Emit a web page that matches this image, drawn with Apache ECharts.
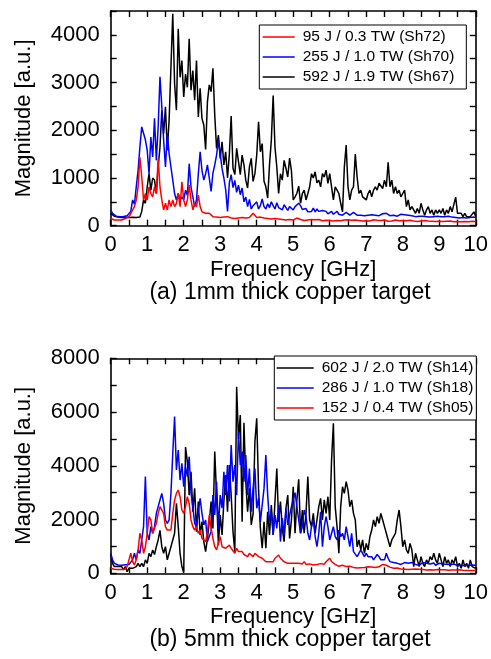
<!DOCTYPE html>
<html>
<head>
<meta charset="utf-8">
<script src="https://cdn.jsdelivr.net/npm/echarts@6/dist/echarts.min.js"></script>
<style>
  html, body { margin: 0; padding: 0; background: #fff; }
  #chart { width: 491px; height: 659px; }
</style>
</head>
<body>
<div id="chart"></div>
<script>
// Spectra are sampled every 0.05 GHz from 0 to 10 GHz (201 points per trace).
const FREQ_STEP_GHZ = 0.05;

const xTickLabels = [0, 1, 2, 3, 4, 5, 6, 7, 8, 9, 10];
const yTickLabelsThin = [0, 1000, 2000, 3000, 4000];
const yTickLabelsThick = [0, 2000, 4000, 6000, 8000];

// (a) 1 mm thick copper target — one row per GHz
const thinNames = ['95 J / 0.3 TW (Sh72)', '255 J / 1.0 TW (Sh70)', '592 J / 1.9 TW (Sh67)'];

const thinSh72 = [
  150,130,120,115,120,110,120,130,150,170,190,250,330,400,540,815,1440,1020,540,675,
  540,815,675,605,815,675,1410,815,540,330,470,330,540,400,540,400,470,675,400,920,
  540,400,540,850,540,330,470,400,640,400,290,330,260,290,260,220,190,220,180,200,
  170,210,180,150,190,170,160,190,150,170,160,140,170,150,160,140,170,200,260,230,
  170,150,180,140,160,130,150,170,140,130,150,120,140,160,130,150,120,140,130,150,
  120,140,160,190,130,140,110,130,120,110,130,115,125,110,130,120,105,125,115,130,
  110,120,100,125,110,130,105,115,120,100,125,110,115,100,120,105,110,125,100,115,
  105,120,100,110,125,100,115,105,110,100,120,105,95,115,100,110,120,95,105,100,
  110,95,105,100,115,95,100,110,90,105,100,95,110,90,100,105,95,100,90,105,
  95,100,90,105,95,90,100,95,85,100,90,95,85,100,90,95,85,90,95,85,
  90
];

const thinSh70 = [
  330,260,220,200,200,190,200,195,200,210,250,300,540,450,815,1160,1650,2070,2110,1800,
  1580,1090,1860,1440,2250,1370,2070,3120,2490,1790,1230,1930,1510,1230,955,675,540,675,540,605,
  540,745,640,1300,815,605,400,540,1090,1550,1160,955,1090,1275,1000,720,1100,1275,1480,1800,
  1500,1200,1000,750,300,900,1070,800,950,700,850,650,790,500,600,400,550,350,420,380,
  500,350,420,560,400,350,460,380,500,420,350,480,380,420,330,440,380,320,400,360,
  330,400,360,470,420,340,300,360,290,330,300,370,290,350,300,270,320,280,300,250,
  280,300,240,270,300,240,260,220,250,280,240,220,260,280,240,220,250,220,240,210,
  240,220,250,230,260,220,240,210,230,250,220,260,230,210,240,220,230,200,220,240,
  210,230,200,220,190,210,220,190,210,200,180,200,220,190,200,180,210,190,180,200,
  180,190,170,190,180,200,170,180,190,170,180,160,180,170,190,160,180,170,160,180,
  170
];

const thinSh67 = [
  260,230,200,190,180,185,170,180,175,190,170,180,175,190,170,200,180,300,540,470,
  815,1090,745,1000,955,675,1230,1650,2420,1930,2490,1580,2210,3320,4440,2980,2420,4130,3110,3460,
  2700,3180,2900,3920,2840,3250,2630,3460,2280,2880,2250,2110,1600,2600,2950,2810,3300,2320,1620,1900,
  1410,1760,1275,1550,1000,1500,2300,1205,1070,1620,1345,1070,1480,1275,955,790,1230,1410,930,1090,
  1480,2180,1550,1720,930,815,580,1275,1790,2730,1650,1230,675,1090,955,1370,1205,1020,1415,1160,
  540,605,680,830,470,675,745,540,675,815,1090,1000,1130,900,955,815,1090,1020,1165,885,
  1090,815,540,815,745,675,470,290,1230,1690,815,540,745,815,1500,1020,675,745,605,605,
  540,675,745,605,745,815,745,890,885,780,955,815,1330,815,955,675,815,675,745,605,
  675,745,400,540,330,400,330,260,360,260,470,330,220,330,400,260,330,220,330,260,
  330,260,360,220,330,260,400,290,260,600,260,220,260,190,260,190,220,190,220,290,
  190
];

// (b) 5 mm thick copper target — one row per GHz
const thickNames = ['602 J / 2.0 TW (Sh14)', '286 J / 1.0 TW (Sh18)', '152 J / 0.4 TW (Sh05)'];

const thickSh14 = [
  745,370,250,280,250,300,250,125,250,60,185,250,185,250,250,370,250,370,250,500,
  370,745,620,870,700,990,1240,1600,990,745,990,500,745,990,1240,1490,2600,1735,745,250,
  40,4700,4150,2910,3780,2290,3160,1550,2670,1430,1920,1180,805,1300,1920,2670,1670,4530,2910,1050,
  2170,1430,2670,3660,2290,4030,2910,1550,805,6940,5000,5890,1920,5600,3410,2290,3160,1800,2200,4900,
  5770,3160,1670,930,1920,930,2290,1430,2540,1430,2670,3900,1920,2670,1670,1180,2420,2910,1300,1985,
  3220,1490,2730,3500,1490,2355,1490,2230,3600,1985,1735,2230,1490,1985,2480,2790,1985,2730,2230,2850,
  1985,4215,5580,2480,1735,745,2480,3220,2975,3410,3100,2480,2730,2230,1985,990,1240,870,1240,745,
  1115,870,1365,1610,1985,1735,2110,1860,2230,1985,1735,1490,1240,990,1240,1365,1490,1985,2355,1735,
  990,1240,870,745,1115,870,250,745,500,250,620,370,250,500,370,620,500,745,500,370,
  745,500,250,620,370,500,250,500,370,620,250,370,185,500,250,370,185,500,250,310,
  185
];

const thickSh18 = [
  745,500,370,330,310,320,300,310,320,300,330,370,500,745,500,870,745,1240,1735,3600,
  1490,1240,1735,1490,1735,2230,2480,2730,2975,2600,1985,1860,1985,2975,4460,5830,3845,4590,3470,4090,
  3220,3970,3600,4340,2975,2480,1860,1735,2290,2790,2230,1800,1985,1180,1365,1550,2910,2170,3410,1670,
  2910,2420,3780,2910,4030,2670,4770,3410,4030,2910,5270,4030,4530,3410,4400,2910,3900,2290,3160,3900,
  2420,2790,1920,2540,3160,4400,2910,1920,2290,1430,2170,1670,2540,1180,2050,1430,2420,1800,1735,2480,
  2480,3000,2480,1985,1490,1735,2355,2110,1490,1240,1735,1985,1365,990,1490,2290,990,1735,2110,1735,
  1240,1490,1735,1365,1240,1610,1365,1490,1240,1735,1700,990,1490,805,745,620,745,870,745,620,
  745,620,560,620,500,560,700,620,500,560,500,745,560,435,500,400,430,370,400,330,
  370,400,330,370,300,400,350,330,370,300,350,400,330,370,300,350,330,380,300,340,
  370,310,350,300,340,380,320,300,350,310,280,330,300,340,280,310,300,270,310,280,
  300
];

const thickSh05 = [
  185,160,150,150,140,150,145,150,160,250,500,745,435,310,500,870,1490,1240,745,990,
  1490,2110,1985,1490,1425,1860,2230,2480,2540,2230,1735,1610,1675,1610,2230,2730,2975,3100,2850,2355,
  2230,2480,2850,2600,1985,1735,1610,1735,1490,1610,1300,1365,1180,1550,2170,1700,1300,990,870,930,
  1365,990,1050,930,870,1050,930,870,745,930,810,745,810,700,680,620,745,680,620,745,
  680,620,680,560,500,430,500,430,500,430,560,620,680,560,500,430,500,370,430,370,
  310,370,310,370,300,350,435,330,300,350,370,310,290,330,400,360,300,340,430,500,
  560,440,380,330,300,260,250,300,280,250,230,260,240,220,250,200,185,210,190,220,
  200,240,210,230,250,220,260,240,280,330,370,300,250,230,200,190,180,200,170,160,
  180,150,170,140,160,150,130,160,140,150,130,140,150,120,140,130,150,120,130,140,
  120,130,110,130,120,110,130,120,100,120,110,130,100,110,120,100,110,100,120,100,
  110
];

const FONT = '"Liberation Sans", Arial, sans-serif';
const AXIS_FONT_SIZE = 22;
const INK = '#000';
const RED = '#ff0000', BLUE = '#0000ff', BLACK = '#000000';

function toPairs(values) {
  return values.map((v, i) => [Number((i * FREQ_STEP_GHZ).toFixed(2)), v]);
}

function xAxisFor(grid, position) {
  const isBottom = position === 'bottom';
  return {
    gridIndex: grid, type: 'value', position: position,
    min: 0, max: 10, interval: 0.5,
    axisLine: { show: true, onZero: false, lineStyle: { color: INK, width: 1.6 } },
    axisTick: { show: true, inside: true, length: 6, lineStyle: { color: INK, width: 1.4 } },
    axisLabel: isBottom ? {
      show: true, margin: 8.5, color: INK, fontSize: AXIS_FONT_SIZE, fontFamily: FONT,
      formatter: v => (xTickLabels.includes(v) ? String(v) : '')
    } : { show: false },
    splitLine: { show: false },
    name: isBottom ? 'Frequency [GHz]' : '',
    nameLocation: 'middle', nameGap: 33,
    nameTextStyle: { color: INK, fontSize: AXIS_FONT_SIZE, fontFamily: FONT }
  };
}

function yAxisFor(grid, position, max, step, labels) {
  const isLeft = position === 'left';
  return {
    gridIndex: grid, type: 'value', position: position,
    min: 0, max: max, interval: step,
    axisLine: { show: true, onZero: false, lineStyle: { color: INK, width: 1.6 } },
    axisTick: { show: true, inside: true, length: 6, lineStyle: { color: INK, width: 1.4 } },
    axisLabel: isLeft ? {
      show: true, margin: 11, color: INK, fontSize: AXIS_FONT_SIZE, fontFamily: FONT,
      formatter: v => (labels.includes(v) ? String(v) : '')
    } : { show: false },
    splitLine: { show: false },
    name: isLeft ? 'Magnitude [a.u.]' : '',
    nameLocation: 'middle', nameRotate: 90, nameGap: 75.5,
    nameTextStyle: { color: INK, fontSize: AXIS_FONT_SIZE, fontFamily: FONT }
  };
}

function lineSeries(name, values, color, axisIdx, z) {
  return {
    type: 'line', name: name, data: toPairs(values),
    xAxisIndex: axisIdx, yAxisIndex: axisIdx,
    symbol: 'none', showSymbol: false, smooth: false,
    lineStyle: { color: color, width: 1.5 },
    itemStyle: { color: color },
    z: z
  };
}

// Legend keys are plain coloured strokes: a flat rectangle the width of the key.
function legendFor(names, left, top, lineLen, padding) {
  return {
    data: names, orient: 'vertical', left: left, top: top,
    icon: 'rect', itemWidth: lineLen, itemHeight: 1.6,
    padding: padding, itemGap: 4,
    backgroundColor: '#fff', borderColor: INK, borderWidth: 1, borderRadius: 0,
    selectedMode: false,
    textStyle: { color: INK, fontSize: 15.5, lineHeight: 16, fontFamily: FONT, padding: [0, 0, 0, 3] }
  };
}

const chart = echarts.init(document.getElementById('chart'), null, { renderer: 'canvas' });

chart.setOption({
  animation: false,
  backgroundColor: '#fff',
  grid: [
    { left: 110.7, right: 13, top: 11, height: 214.7 },
    { left: 110.7, right: 13, top: 358.3, height: 215 }
  ],
  xAxis: [
    xAxisFor(0, 'bottom'), xAxisFor(1, 'bottom'),
    xAxisFor(0, 'top'), xAxisFor(1, 'top')
  ],
  yAxis: [
    yAxisFor(0, 'left', 4500, 500, yTickLabelsThin),
    yAxisFor(1, 'left', 8000, 1000, yTickLabelsThick),
    yAxisFor(0, 'right', 4500, 500, yTickLabelsThin),
    yAxisFor(1, 'right', 8000, 1000, yTickLabelsThick)
  ],
  legend: [
    legendFor(thinNames, 259.3, 25, 32, [4, 12, 4, 3.4]),
    legendFor(thickNames, 274.3, 356, 37, [4, 3, 4, 2.4])
  ],
  series: [
    lineSeries(thinNames[2], thinSh67, BLACK, 0, 2),
    lineSeries(thinNames[1], thinSh70, BLUE, 0, 3),
    lineSeries(thinNames[0], thinSh72, RED, 0, 4),
    lineSeries(thickNames[0], thickSh14, BLACK, 1, 2),
    lineSeries(thickNames[1], thickSh18, BLUE, 1, 3),
    lineSeries(thickNames[2], thickSh05, RED, 1, 4)
  ],
  graphic: [
    {
      type: 'text', x: 290, y: 293,
      style: { text: '(a) 1mm thick copper target', fill: INK, fontSize: 23, fontFamily: FONT,
               align: 'center', verticalAlign: 'middle' }
    },
    {
      type: 'text', x: 290, y: 640,
      style: { text: '(b) 5mm thick copper target', fill: INK, fontSize: 23, fontFamily: FONT,
               align: 'center', verticalAlign: 'middle' }
    }
  ]
});
</script>
</body>
</html>
